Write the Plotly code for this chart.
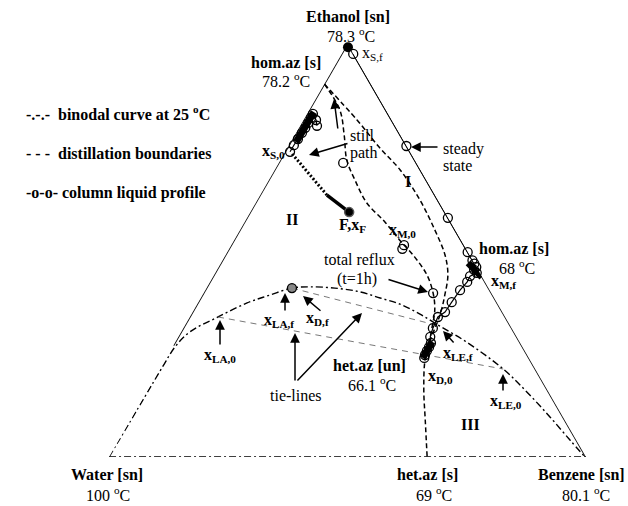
import plotly.graph_objects as go

FONT = "Liberation Serif"

# ---------------------------------------------------------------
# Ethanol / water / benzene mole fractions (ethanol, benzene);
# water is the remainder.
# ---------------------------------------------------------------

# binodal curve at 25 C (water-rich branch -> plait region -> benzene-rich branch)
binodal_ethanol = [0.000, 0.143, 0.218, 0.266, 0.303, 0.339, 0.373, 0.392, 0.409, 0.412,
                   0.409, 0.400, 0.385, 0.370, 0.346, 0.317, 0.278, 0.213, 0.157, 0.097,
                   0.041, 0.000]
binodal_benzene = [0.000, 0.002, 0.003, 0.005, 0.018, 0.059, 0.103, 0.141, 0.179, 0.216,
                   0.269, 0.326, 0.376, 0.425, 0.479, 0.535, 0.611, 0.720, 0.798, 0.876,
                   0.946, 0.998]

# tie-lines (x_LA,f - x_LE,f and x_LA,0 - x_LE,0)
tie_ethanol = [[0.409, 0.317], [0.339, 0.213]]
tie_benzene = [[0.179, 0.535], [0.059, 0.720]]

# distillation boundaries
bnd_upper_ethanol = [0.903, 0.816, 0.748, 0.695, 0.622, 0.550, 0.489, 0.441, 0.392, 0.344, 0.283]
bnd_upper_benzene = [0.000, 0.112, 0.194, 0.263, 0.341, 0.408, 0.460, 0.490, 0.508, 0.522, 0.531]
bnd_inner_ethanol = [0.903, 0.840, 0.780, 0.719, 0.671, 0.615, 0.569, 0.525, 0.484, 0.441,
                     0.397, 0.356, 0.312, 0.283]
bnd_inner_benzene = [0.000, 0.064, 0.103, 0.139, 0.180, 0.233, 0.294, 0.347, 0.399, 0.446,
                     0.481, 0.505, 0.521, 0.531]
bnd_lower_ethanol = [0.283, 0.235, 0.162, 0.090, 0.000]
bnd_lower_benzene = [0.531, 0.545, 0.579, 0.618, 0.667]

# compositions marked on the inner boundary (x_M,0 and total reflux at t = 1 h)
marked_ethanol = [0.712, 0.513, 0.504, 0.397]
marked_benzene = [0.135, 0.362, 0.363, 0.481]

# column liquid profile at steady state: x_S,f -> x_M,f -> x_D,0
profile_ethanol = [0.976, 0.918, 0.753, 0.579, 0.496, 0.476, 0.468, 0.460, 0.453, 0.446,
                   0.438, 0.424, 0.404, 0.375, 0.351, 0.339, 0.312, 0.291, 0.276, 0.266,
                   0.257, 0.247, 0.240]
profile_benzene = [0.024, 0.082, 0.247, 0.421, 0.504, 0.524, 0.532, 0.540, 0.539, 0.548,
                   0.538, 0.539, 0.534, 0.531, 0.529, 0.520, 0.523, 0.528, 0.537, 0.538,
                   0.538, 0.539, 0.541]

# initial column profile near the still (x_S,0)
still_prof_ethanol = [0.739, 0.755, 0.770, 0.785, 0.797, 0.809, 0.821, 0.831, 0.816, 0.802]
still_prof_benzene = [0.010, 0.010, 0.011, 0.012, 0.013, 0.013, 0.013, 0.012, 0.026, 0.035]

# pinched sections of the profiles
pinch_ethanol = [[0.763, 0.835], [0.470, 0.436], [0.279, 0.240]]
pinch_benzene = [[0.011, 0.012], [0.518, 0.564], [0.538, 0.538]]

# still path: x_S,0 -> F
still_path_ethanol = [0.734, 0.634, 0.593]
still_path_benzene = [0.017, 0.140, 0.207]
feed = (0.593, 0.207)
x_s_final = (0.992, 0.005)
x_d_final = (0.409, 0.179)


def water(eth, benz):
    return [1 - e - b for e, b in zip(eth, benz)]


def tern(eth, benz, **kw):
    return go.Scatterternary(a=eth, b=water(eth, benz), c=benz, cliponaxis=False,
                             showlegend=False, hoverinfo="skip", **kw)


fig = go.Figure()

BLACK = "black"
# triangle sides
fig.add_trace(tern([1, 0], [0, 1], mode="lines", line=dict(color=BLACK, width=1.6)))
fig.add_trace(tern([1, 0.27], [0, 0], mode="lines", line=dict(color=BLACK, width=1.6)))
fig.add_trace(tern([0, 0], [0, 1], mode="lines",
                   line=dict(color=BLACK, width=1.4, dash="7px,3px,2px,3px")))

# binodal curve
fig.add_trace(tern(binodal_ethanol, binodal_benzene, mode="lines",
                   line=dict(color=BLACK, width=1.4, dash="7px,3px,2px,3px", shape="spline")))

# tie-lines
for te, tb in zip(tie_ethanol, tie_benzene):
    fig.add_trace(tern(te, tb, mode="lines",
                       line=dict(color="#555555", width=0.8, dash="6px,5px")))

# distillation boundaries
for be, bb in [(bnd_upper_ethanol, bnd_upper_benzene),
               (bnd_inner_ethanol, bnd_inner_benzene),
               (bnd_lower_ethanol, bnd_lower_benzene)]:
    fig.add_trace(tern(be, bb, mode="lines",
                       line=dict(color=BLACK, width=1.5, dash="5px,3px", shape="spline")))

# still path
fig.add_trace(tern(still_path_ethanol[:2], still_path_benzene[:2], mode="lines",
                   line=dict(color=BLACK, width=3, dash="2px,2px")))
fig.add_trace(tern(still_path_ethanol[1:], still_path_benzene[1:], mode="lines",
                   line=dict(color=BLACK, width=3.5)))

# column liquid profiles
circle = dict(symbol="circle-open", size=9, color=BLACK, line=dict(width=1.3))
fig.add_trace(tern(profile_ethanol, profile_benzene, mode="lines+markers",
                   line=dict(color=BLACK, width=1.2), marker=circle))
fig.add_trace(tern(still_prof_ethanol, still_prof_benzene, mode="lines+markers",
                   line=dict(color=BLACK, width=1.2), marker=circle))
fig.add_trace(tern(marked_ethanol, marked_benzene, mode="markers", marker=circle))
fig.add_trace(tern([x_d_final[0]], [x_d_final[1]], mode="markers",
                   marker=dict(symbol="circle", size=9, color="#888888",
                               line=dict(width=1.3, color=BLACK))))
for pe, pb in zip(pinch_ethanol, pinch_benzene):
    fig.add_trace(tern(pe, pb, mode="lines", line=dict(color=BLACK, width=7)))

# feed and final still composition
fig.add_trace(tern([feed[0]], [feed[1]], mode="markers",
                   marker=dict(symbol="circle", size=9, color=BLACK,
                               line=dict(width=1.5, color="#555555"))))
fig.add_trace(tern([x_s_final[0]], [x_s_final[1]], mode="markers",
                   marker=dict(symbol="circle", size=10, color=BLACK)))

# ---------------------------------------------------------------
# annotations (pixel placement inside the 628 x 506 canvas)
# ---------------------------------------------------------------
W, H = 628, 506
ML, MR, MT, MB = 109, 42, 44, 49
PW, PH = W - ML - MR, H - MT - MB


def paper(x, y):
    return (x - ML) / PW, (H - MB - y) / PH


def label(text, x, y, bold=False, size=16, xanchor="center"):
    xp, yp = paper(x, y)
    return dict(text=f"<b>{text}</b>" if bold else text, x=xp, y=yp,
                xref="paper", yref="paper", showarrow=False,
                xanchor=xanchor, yanchor="middle",
                font=dict(family=FONT, size=size, color=BLACK))


def arrow(tip, tail):
    xp, yp = paper(*tip)
    return dict(text="", x=xp, y=yp, xref="paper", yref="paper",
                ax=tail[0] - tip[0], ay=tail[1] - tip[1], showarrow=True,
                arrowhead=2, arrowsize=1.3, arrowwidth=1.5, arrowcolor=BLACK)


deg = "<sup>o</sup>C"
annotations = [
    label("Ethanol [sn]", 348, 17, bold=True),
    label("78.3 " + deg, 351, 35),
    label("x<sub>S,f</sub>", 360, 53, xanchor="left"),
    label("hom.az [s]", 286, 62, bold=True),
    label("78.2 " + deg, 286, 80),
    label("-.-.-  binodal curve at 25 " + deg, 24, 113, bold=True, xanchor="left"),
    label("- - -  distillation boundaries", 24, 153, bold=True, xanchor="left"),
    label("-o-o- column liquid profile", 24, 193, bold=True, xanchor="left"),
    label("x<sub>S,0</sub>", 287, 151, bold=True, xanchor="right"),
    label("still", 348, 135, xanchor="left"),
    label("path", 348, 153, xanchor="left"),
    label("steady", 441, 149, xanchor="left"),
    label("state", 441, 165, xanchor="left"),
    label("I", 408, 181, bold=True),
    label("II", 292, 219, bold=True),
    label("F,x<sub>F</sub>", 352, 225, bold=True),
    label("x<sub>M,0</sub>", 402, 231, bold=True),
    label("total reflux", 359, 259),
    label("(t=1h)", 357, 279),
    label("hom.az [s]", 514, 249, bold=True),
    label("68 " + deg, 517, 267),
    label("x<sub>M,f</sub>", 503, 281, bold=True),
    label("x<sub>LA,f</sub>", 279, 320, bold=True),
    label("x<sub>D,f</sub>", 317, 318, bold=True),
    label("x<sub>LA,0</sub>", 220, 355, bold=True),
    label("tie-lines", 296, 395),
    label("het.az [un]", 408, 365, bold=True, xanchor="right"),
    label("66.1 " + deg, 398, 384, xanchor="right"),
    label("x<sub>LE,f</sub>", 458, 353, bold=True),
    label("x<sub>D,0</sub>", 440, 376, bold=True),
    label("x<sub>LE,0</sub>", 506, 401, bold=True),
    label("III", 470, 424, bold=True),
    label("Water [sn]", 107, 474, bold=True),
    label("100 " + deg, 108, 494),
    label("het.az [s]", 427, 474, bold=True),
    label("69 " + deg, 434, 494),
    label("Benzene [sn]", 581, 474, bold=True),
    label("80.1 " + deg, 586, 494),
    # arrows
    arrow((334, 99), (338, 130)),
    arrow((309, 155), (349, 143)),
    arrow((411, 147), (439, 147)),
    arrow((428, 292), (387, 279)),
    arrow((443, 331), (455, 344)),
    arrow((503, 374), (503, 392)),
    arrow((285, 293), (285, 312)),
    arrow((303, 296), (322, 312)),
    arrow((220, 320), (220, 346)),
    arrow((295, 333), (295, 382)),
    arrow((362, 313), (296, 382)),
]

hidden = dict(showline=False, showgrid=False, showticklabels=False, ticks="",
              title=dict(text=""))
fig.update_layout(
    width=W, height=H,
    margin=dict(l=ML, r=MR, t=MT, b=MB, autoexpand=False),
    paper_bgcolor="white",
    showlegend=False,
    ternary=dict(sum=1, bgcolor="white", domain=dict(x=[0, 1], y=[0, 1]),
                 aaxis=hidden, baxis=hidden, caxis=hidden),
    annotations=annotations,
)

fig.write_html("out.html")
